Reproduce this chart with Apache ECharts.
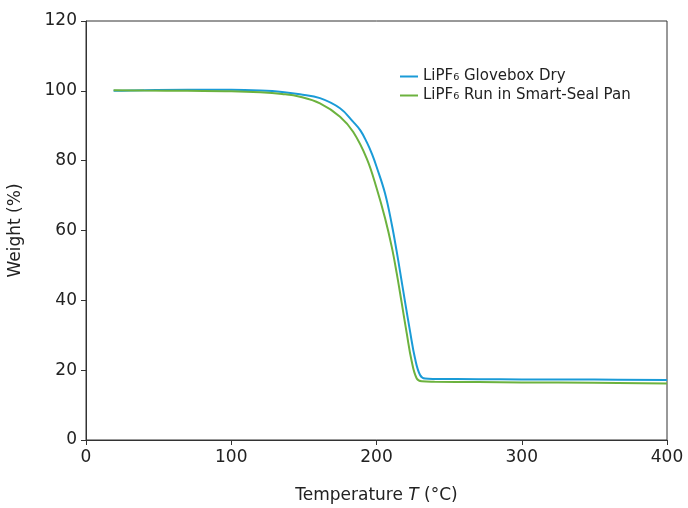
<!DOCTYPE html>
<html>
<head>
<meta charset="utf-8">
<script src="https://cdn.jsdelivr.net/npm/echarts@6/dist/echarts.min.js"></script>
<style>html,body{margin:0;padding:0;background:#fff}#c{width:688px;height:508px}</style>
</head>
<body>
<div id="c"></div>
<script>
const blueT = [19, 40, 70, 100, 120, 135, 147.3, 161.1, 174.9, 184.0, 189.0, 193.3, 197.0, 200.1, 205.9, 210.5, 213.9, 216.2, 219.6, 223.1, 226.5, 230.0, 233.4, 240, 270, 300, 350, 400];
const blueW = [100.0, 100.2, 100.3, 100.3, 100.1, 99.7, 99.0, 97.9, 95.0, 91.1, 88.6, 85.3, 81.8, 78.2, 70.6, 61.8, 54.0, 48.3, 39.7, 31.1, 23.4, 18.6, 17.6, 17.5, 17.4, 17.35, 17.3, 17.2];
const greenT = [19, 40, 70, 100, 120, 135, 147.3, 161.1, 174.9, 184.0, 193.3, 200.1, 205.9, 210.5, 213.9, 217.3, 220.8, 224.2, 227.7, 231.1, 240, 270, 300, 350, 400];
const greenW = [100.2, 100.1, 100.0, 99.9, 99.6, 99.1, 98.3, 96.4, 92.6, 88.2, 80.6, 72.1, 63.5, 55.3, 47.8, 39.4, 30.6, 22.6, 17.6, 16.8, 16.7, 16.6, 16.5, 16.4, 16.2];
const seriesNames = ['LiPF\u2086 Glovebox Dry', 'LiPF\u2086 Run in Smart-Seal Pan'];
const xTicks = [0, 100, 200, 300, 400];
const yTicks = [0, 20, 40, 60, 80, 100, 120];

const FONT = 'DejaVu Sans';
const chart = echarts.init(document.getElementById('c'), null, {renderer: 'canvas'});
const pair = (xs, ys) => xs.map((t, i) => [t, ys[i]]);
chart.setOption({
  animation: false,
  backgroundColor: '#fff',
  grid: {left: 86, right: 21, top: 21, bottom: 68, containLabel: false, outerBoundsMode: 'none',
         show: true, borderColor: '#333', borderWidth: 1},
  legend: {
    left: 395, top: 64, orient: 'vertical', itemGap: 4,
    icon: 'rect', itemWidth: 18, itemHeight: 2,
    textStyle: {fontFamily: FONT, fontSize: 15, color: '#222'},
    data: seriesNames
  },
  xAxis: {
    type: 'value', min: xTicks[0], max: xTicks[xTicks.length - 1], interval: 100,
    name: '{n|Temperature }{i|T}{n| (°C)}', nameLocation: 'middle', nameGap: 47,
    nameTextStyle: {rich: {n: {fontFamily: FONT, fontSize: 17, color: '#222'}, i: {fontFamily: FONT, fontSize: 17, fontStyle: 'italic', color: '#222'}}},
    axisLine: {lineStyle: {color: '#333', width: 1}},
    axisTick: {show: true, length: 5, lineStyle: {color: '#333'}},
    axisLabel: {fontFamily: FONT, fontSize: 17, color: '#222', margin: 9},
    splitLine: {show: false}
  },
  yAxis: {
    type: 'value', min: yTicks[0], max: yTicks[yTicks.length - 1], interval: 20,
    name: 'Weight (%)', nameLocation: 'middle', nameGap: 62, nameRotate: 90,
    nameTextStyle: {fontFamily: FONT, fontSize: 17, color: '#222'},
    axisLine: {show: true, lineStyle: {color: '#333', width: 1}},
    axisTick: {show: true, length: 5, lineStyle: {color: '#333'}},
    axisLabel: {fontFamily: FONT, fontSize: 17, color: '#222', margin: 9},
    splitLine: {show: false}
  },
  series: [
    {name: seriesNames[0], type: 'line', data: pair(blueT, blueW), showSymbol: false, symbol: 'none', smooth: 0.4,
     lineStyle: {color: '#1a9bd7', width: 2}, itemStyle: {color: '#1a9bd7'}},
    {name: seriesNames[1], type: 'line', data: pair(greenT, greenW), showSymbol: false, symbol: 'none', smooth: 0.4,
     lineStyle: {color: '#6cb23e', width: 2}, itemStyle: {color: '#6cb23e'}}
  ]
});
</script>
</body>
</html>
